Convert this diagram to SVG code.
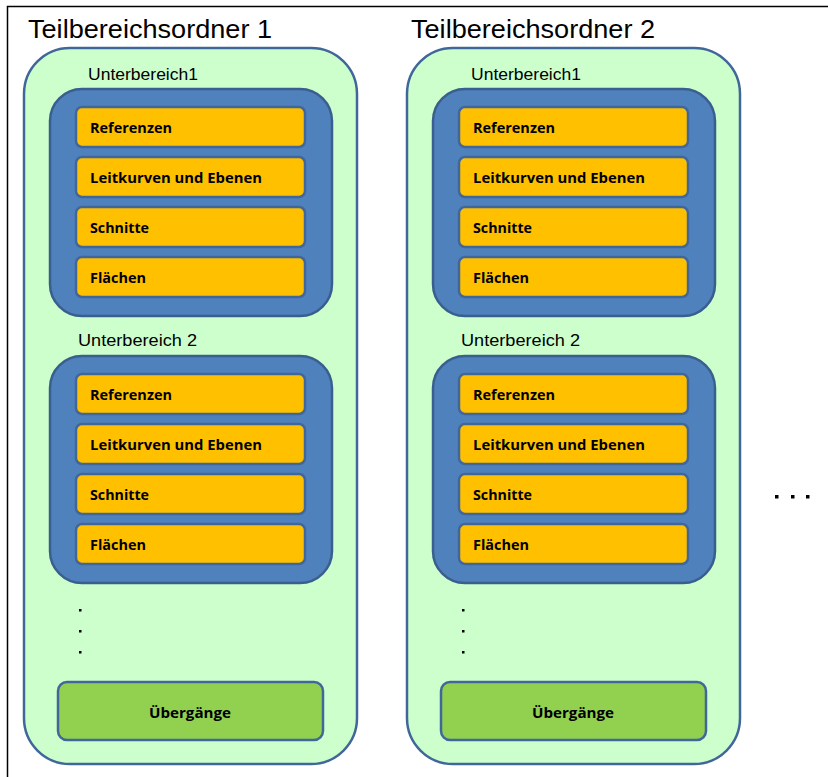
<svg xmlns="http://www.w3.org/2000/svg" width="828" height="777" viewBox="0 0 828 777">
<defs>
<style>
.title{font-family:"Liberation Sans",Arial,sans-serif;font-size:25px;fill:#000}
.sub{font-family:"Liberation Sans",Arial,sans-serif;font-size:17px;fill:#000}
.cont{fill:#ccffcc;stroke:#41679a;stroke-width:2.5}
.blue{fill:#4f81bd;stroke:#3a5f8f;stroke-width:2.5}
.item{fill:#ffc000;stroke:#41679a;stroke-width:2.5}
.ueb{fill:#92d050;stroke:#41679a;stroke-width:2.5}
.lbl{font-family:"Open Sans","Noto Sans",sans-serif;font-weight:700;font-size:15px;fill:#000}
.dot{fill:#000}
</style>
<g id="sub">
<rect class="blue" x="0" y="0" width="282" height="227" rx="32" ry="32"/>
<rect class="item" x="26" y="18" width="229" height="40" rx="6"/>
<text class="lbl" x="40" y="44" textLength="82" lengthAdjust="spacingAndGlyphs">Referenzen</text>
<rect class="item" x="26" y="68" width="229" height="40" rx="6"/>
<text class="lbl" x="40" y="94" textLength="172" lengthAdjust="spacingAndGlyphs">Leitkurven und Ebenen</text>
<rect class="item" x="26" y="118" width="229" height="40" rx="6"/>
<text class="lbl" x="40" y="144" textLength="59" lengthAdjust="spacingAndGlyphs">Schnitte</text>
<rect class="item" x="26" y="168" width="229" height="40" rx="6"/>
<text class="lbl" x="40" y="194" textLength="56" lengthAdjust="spacingAndGlyphs">Flächen</text>
</g>
<g id="folder">
<rect class="cont" x="0" y="0" width="333" height="716" rx="46" ry="46"/>
<use href="#sub" x="26" y="41"/>
<use href="#sub" x="26" y="308"/>
<rect class="dot" x="55" y="561" width="2.5" height="2.5"/>
<rect class="dot" x="55" y="582" width="2.5" height="2.5"/>
<rect class="dot" x="55" y="603" width="2.5" height="2.5"/>
<rect class="ueb" x="34" y="634" width="265" height="58" rx="9"/>
<text class="lbl" x="125" y="670" textLength="82" lengthAdjust="spacingAndGlyphs">Übergänge</text>
</g>
</defs>
<rect x="0" y="0" width="828" height="777" fill="#fff"/>
<path d="M7.5 777 V6.5 H828" fill="none" stroke="#000" stroke-width="1.5"/>
<g id="teilbereich1">
<text class="title" x="28" y="38" textLength="244" lengthAdjust="spacingAndGlyphs">Teilbereichsordner 1</text>
<use href="#folder" x="24" y="48"/>
<text class="sub" x="88" y="80" textLength="110" lengthAdjust="spacingAndGlyphs">Unterbereich1</text>
<text class="sub" x="78" y="346" textLength="119" lengthAdjust="spacingAndGlyphs">Unterbereich 2</text>
</g>
<g id="teilbereich2">
<text class="title" x="411" y="38" textLength="244" lengthAdjust="spacingAndGlyphs">Teilbereichsordner 2</text>
<use href="#folder" x="407" y="48"/>
<text class="sub" x="471" y="80" textLength="110" lengthAdjust="spacingAndGlyphs">Unterbereich1</text>
<text class="sub" x="461" y="346" textLength="119" lengthAdjust="spacingAndGlyphs">Unterbereich 2</text>
</g>
<g id="more">
<rect class="dot" x="775" y="495" width="3.5" height="3.5"/>
<rect class="dot" x="791" y="495" width="3.5" height="3.5"/>
<rect class="dot" x="806" y="495" width="3.5" height="3.5"/>
</g>
<g id="connectors"/>
</svg>
